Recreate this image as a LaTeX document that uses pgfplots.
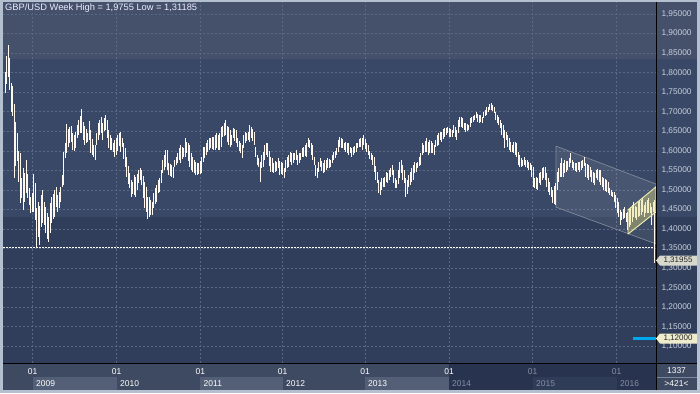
\documentclass[border=0pt]{standalone}
\usepackage{pgfplots}
\pgfplotsset{compat=1.18}
\usepackage{pgfplotstable}
\usepackage{fontspec}
\setmainfont{Liberation Sans}
\definecolor{outer}{HTML}{B4BFCF}
\definecolor{bandA}{HTML}{45516B}
\definecolor{bandB}{HTML}{3A4867}
\definecolor{bandC}{HTML}{303E5B}
\definecolor{panel}{HTML}{3E4A61}
\definecolor{panelD}{HTML}{28344F}
\definecolor{yearbox}{HTML}{535F76}
\definecolor{yearboxD}{HTML}{2F3C58}
\definecolor{gridc}{HTML}{5A6986}
\definecolor{labc}{HTML}{C8D0DC}
\definecolor{dimtxt}{HTML}{858EA0}
\definecolor{barc}{HTML}{FFF8EE}
\definecolor{chan}{HTML}{808898}
\definecolor{yel}{HTML}{E6E07A}
\definecolor{yeledge}{HTML}{F2EDB0}
\definecolor{bluel}{HTML}{00A8F0}
\definecolor{tagA}{HTML}{D8D8CC}
\definecolor{tagB}{HTML}{EEECCC}

\pgfplotstableread{
x h l
5.0 1.802 1.748
6.5 1.843 1.772
8.0 1.871 1.790
9.5 1.837 1.756
11.0 1.774 1.700
12.5 1.766 1.690
14.0 1.720 1.530
15.5 1.675 1.560
17.0 1.646 1.575
18.5 1.600 1.520
20.0 1.594 1.467
21.5 1.530 1.480
23.0 1.556 1.449
24.5 1.543 1.469
26.0 1.577 1.492
27.5 1.540 1.480
29.0 1.505 1.461
30.5 1.482 1.441
32.0 1.492 1.444
33.5 1.541 1.444
35.0 1.518 1.423
36.5 1.454 1.354
38.0 1.470 1.380
39.5 1.459 1.359
41.0 1.487 1.405
42.5 1.500 1.415
44.0 1.469 1.410
45.5 1.456 1.390
47.0 1.440 1.375
48.5 1.431 1.367
50.0 1.467 1.390
51.5 1.482 1.415
53.0 1.490 1.425
54.5 1.500 1.431
56.0 1.507 1.456
57.5 1.487 1.444
59.0 1.495 1.455
60.5 1.507 1.469
62.0 1.538 1.507
63.5 1.597 1.513
65.0 1.620 1.582
66.5 1.669 1.594
68.0 1.655 1.610
69.5 1.661 1.620
71.0 1.664 1.623
72.5 1.646 1.602
74.0 1.640 1.600
75.5 1.648 1.607
77.0 1.666 1.633
78.5 1.679 1.641
80.0 1.690 1.645
81.5 1.707 1.646
83.0 1.674 1.628
84.5 1.664 1.615
86.0 1.655 1.620
87.5 1.646 1.623
89.0 1.676 1.628
90.5 1.653 1.594
92.0 1.630 1.590
93.5 1.615 1.584
95.0 1.615 1.577
96.5 1.646 1.615
98.0 1.671 1.628
99.5 1.680 1.640
101.0 1.687 1.646
102.5 1.671 1.628
104.0 1.685 1.650
105.5 1.692 1.653
107.0 1.679 1.633
108.5 1.653 1.607
110.0 1.640 1.602
111.5 1.633 1.602
113.0 1.620 1.597
114.5 1.628 1.584
116.0 1.633 1.589
117.5 1.640 1.600
119.0 1.646 1.612
120.5 1.648 1.597
122.0 1.633 1.610
123.5 1.620 1.580
125.0 1.607 1.559
126.5 1.584 1.533
128.0 1.560 1.515
129.5 1.543 1.505
131.0 1.525 1.482
132.5 1.520 1.490
134.0 1.538 1.487
135.5 1.533 1.482
137.0 1.540 1.500
138.5 1.551 1.518
140.0 1.556 1.525
141.5 1.551 1.513
143.0 1.535 1.480
144.5 1.520 1.454
146.0 1.507 1.444
147.5 1.482 1.426
149.0 1.482 1.431
150.5 1.475 1.436
152.0 1.469 1.436
153.5 1.492 1.454
155.0 1.505 1.465
156.5 1.513 1.469
158.0 1.525 1.492
159.5 1.530 1.495
161.0 1.551 1.518
162.5 1.577 1.543
164.0 1.590 1.550
165.5 1.602 1.559
167.0 1.602 1.551
168.5 1.569 1.538
170.0 1.566 1.535
171.5 1.564 1.533
173.0 1.559 1.530
174.5 1.577 1.559
176.0 1.585 1.565
177.5 1.594 1.569
179.0 1.607 1.577
180.5 1.615 1.569
182.0 1.610 1.580
183.5 1.607 1.584
185.0 1.633 1.584
186.5 1.623 1.594
188.0 1.620 1.575
189.5 1.615 1.559
191.0 1.594 1.551
192.5 1.585 1.545
194.0 1.577 1.543
195.5 1.572 1.538
197.0 1.569 1.538
198.5 1.569 1.540
200.0 1.575 1.541
201.5 1.584 1.543
203.0 1.610 1.572
204.5 1.610 1.582
206.0 1.620 1.590
207.5 1.628 1.597
209.0 1.633 1.602
210.5 1.633 1.607
212.0 1.636 1.605
213.5 1.636 1.602
215.0 1.641 1.602
216.5 1.646 1.607
218.0 1.640 1.602
219.5 1.646 1.602
221.0 1.661 1.610
222.5 1.664 1.636
224.0 1.670 1.638
225.5 1.679 1.641
227.0 1.664 1.623
228.5 1.660 1.615
230.0 1.653 1.610
231.5 1.641 1.615
233.0 1.659 1.633
234.5 1.656 1.625
236.0 1.653 1.620
237.5 1.633 1.610
239.0 1.625 1.600
240.5 1.620 1.594
242.0 1.615 1.582
243.5 1.641 1.607
245.0 1.648 1.620
246.5 1.645 1.625
248.0 1.648 1.628
249.5 1.666 1.623
251.0 1.661 1.633
252.5 1.655 1.625
254.0 1.648 1.615
255.5 1.610 1.584
257.0 1.590 1.565
258.5 1.582 1.559
260.0 1.572 1.520
261.5 1.589 1.556
263.0 1.597 1.559
264.5 1.615 1.577
266.0 1.620 1.589
267.5 1.620 1.584
269.0 1.600 1.560
270.5 1.584 1.546
272.0 1.582 1.546
273.5 1.569 1.543
275.0 1.575 1.545
276.5 1.572 1.548
278.0 1.582 1.556
279.5 1.575 1.538
281.0 1.572 1.540
282.5 1.570 1.538
284.0 1.556 1.530
285.5 1.577 1.546
287.0 1.585 1.555
288.5 1.589 1.559
290.0 1.597 1.572
291.5 1.594 1.563
293.0 1.594 1.570
294.5 1.594 1.577
296.0 1.602 1.577
297.5 1.589 1.564
299.0 1.595 1.570
300.5 1.594 1.577
302.0 1.607 1.584
303.5 1.610 1.584
305.0 1.615 1.588
306.5 1.620 1.584
308.0 1.633 1.610
309.5 1.628 1.607
311.0 1.620 1.590
312.5 1.615 1.577
314.0 1.584 1.564
315.5 1.565 1.535
317.0 1.556 1.530
318.5 1.572 1.546
320.0 1.582 1.559
321.5 1.575 1.548
323.0 1.569 1.543
324.5 1.577 1.546
326.0 1.577 1.551
327.5 1.582 1.556
329.0 1.580 1.557
330.5 1.577 1.559
332.0 1.589 1.569
333.5 1.597 1.577
335.0 1.600 1.582
336.5 1.607 1.589
338.0 1.628 1.597
339.5 1.636 1.610
341.0 1.633 1.608
342.5 1.630 1.607
344.0 1.620 1.602
345.5 1.622 1.597
347.0 1.620 1.594
348.5 1.620 1.589
350.0 1.610 1.594
351.5 1.607 1.584
353.0 1.610 1.590
354.5 1.612 1.594
356.0 1.620 1.597
357.5 1.620 1.607
359.0 1.630 1.610
360.5 1.633 1.610
362.0 1.633 1.602
363.5 1.641 1.615
365.0 1.630 1.605
366.5 1.620 1.597
368.0 1.615 1.589
369.5 1.600 1.580
371.0 1.594 1.577
372.5 1.589 1.564
374.0 1.584 1.546
375.5 1.560 1.525
377.0 1.546 1.518
378.5 1.525 1.492
380.0 1.520 1.487
381.5 1.530 1.500
383.0 1.530 1.507
384.5 1.533 1.507
386.0 1.546 1.520
387.5 1.543 1.518
389.0 1.550 1.525
390.5 1.556 1.533
392.0 1.564 1.538
393.5 1.551 1.518
395.0 1.530 1.505
396.5 1.525 1.505
398.0 1.550 1.515
399.5 1.572 1.530
401.0 1.577 1.543
402.5 1.565 1.525
404.0 1.551 1.518
405.5 1.530 1.482
407.0 1.525 1.490
408.5 1.538 1.507
410.0 1.546 1.513
411.5 1.555 1.520
413.0 1.564 1.525
414.5 1.572 1.543
416.0 1.569 1.546
417.5 1.572 1.556
419.0 1.585 1.560
420.5 1.594 1.564
422.0 1.620 1.589
423.5 1.615 1.594
425.0 1.625 1.597
426.5 1.633 1.597
428.0 1.623 1.589
429.5 1.628 1.594
431.0 1.625 1.594
432.5 1.620 1.594
434.0 1.615 1.589
435.5 1.628 1.610
437.0 1.640 1.612
438.5 1.646 1.615
440.0 1.648 1.628
441.5 1.648 1.623
443.0 1.655 1.630
444.5 1.659 1.636
446.0 1.659 1.641
447.5 1.661 1.646
449.0 1.659 1.636
450.5 1.655 1.636
452.0 1.653 1.636
453.5 1.666 1.646
455.0 1.660 1.635
456.5 1.653 1.628
458.0 1.679 1.646
459.5 1.687 1.661
461.0 1.687 1.660
462.5 1.684 1.659
464.0 1.671 1.653
465.5 1.671 1.648
467.0 1.668 1.650
468.5 1.666 1.653
470.0 1.684 1.661
471.5 1.687 1.671
473.0 1.690 1.675
474.5 1.692 1.679
476.0 1.699 1.684
477.5 1.695 1.675
479.0 1.692 1.671
480.5 1.692 1.674
482.0 1.687 1.671
483.5 1.699 1.684
485.0 1.705 1.688
486.5 1.712 1.692
488.0 1.712 1.699
489.5 1.720 1.704
491.0 1.722 1.704
492.5 1.718 1.702
494.0 1.712 1.697
495.5 1.699 1.679
497.0 1.692 1.672
498.5 1.687 1.666
500.0 1.679 1.659
501.5 1.670 1.640
503.0 1.666 1.633
504.5 1.653 1.607
506.0 1.648 1.628
507.5 1.640 1.610
509.0 1.633 1.602
510.5 1.623 1.597
512.0 1.615 1.597
513.5 1.623 1.594
515.0 1.622 1.590
516.5 1.620 1.584
518.0 1.597 1.564
519.5 1.589 1.559
521.0 1.582 1.559
522.5 1.577 1.562
524.0 1.584 1.565
525.5 1.577 1.559
527.0 1.577 1.556
528.5 1.572 1.552
530.0 1.569 1.551
531.5 1.564 1.533
533.0 1.559 1.507
534.5 1.530 1.505
536.0 1.532 1.503
537.5 1.530 1.500
539.0 1.543 1.518
540.5 1.546 1.513
542.0 1.555 1.525
543.5 1.559 1.530
545.0 1.559 1.525
546.5 1.543 1.507
548.0 1.530 1.495
549.5 1.520 1.487
551.0 1.507 1.482
552.5 1.500 1.467
554.0 1.510 1.465
555.5 1.518 1.461
557.0 1.546 1.500
558.5 1.556 1.520
560.0 1.570 1.533
561.5 1.582 1.533
563.0 1.569 1.533
564.5 1.577 1.543
566.0 1.574 1.546
567.5 1.575 1.550
569.0 1.582 1.559
570.5 1.594 1.569
572.0 1.577 1.556
573.5 1.572 1.551
575.0 1.570 1.548
576.5 1.569 1.546
578.0 1.572 1.552
579.5 1.572 1.546
581.0 1.575 1.550
582.5 1.577 1.556
584.0 1.584 1.560
585.5 1.570 1.533
587.0 1.566 1.530
588.5 1.564 1.525
590.0 1.559 1.533
591.5 1.550 1.520
593.0 1.546 1.518
594.5 1.543 1.513
596.0 1.551 1.530
597.5 1.554 1.525
599.0 1.552 1.520
600.5 1.551 1.513
602.0 1.533 1.507
603.5 1.530 1.500
605.0 1.528 1.497
606.5 1.525 1.495
608.0 1.520 1.492
609.5 1.505 1.487
611.0 1.500 1.484
612.5 1.495 1.482
614.0 1.495 1.469
615.5 1.487 1.454
617.0 1.480 1.440
618.5 1.469 1.431
620.0 1.449 1.410
621.5 1.444 1.423
623.0 1.450 1.425
624.5 1.456 1.428
626.0 1.441 1.418
627.5 1.444 1.397
629.0 1.452 1.405
630.5 1.456 1.410
632.0 1.461 1.418
633.5 1.469 1.431
635.0 1.460 1.428
636.5 1.456 1.423
638.0 1.469 1.431
639.5 1.472 1.434
641.0 1.474 1.436
642.5 1.479 1.444
644.0 1.461 1.431
645.5 1.469 1.441
647.0 1.475 1.441
648.5 1.479 1.441
650.0 1.467 1.441
651.5 1.456 1.410
653.0 1.469 1.444
654.5 1.475 1.312
}\bars

\begin{document}
\begin{tikzpicture}[x=1pt,y=1pt]
\useasboundingbox (-3,-30) rectangle (697,363);
% frame and background bands
\fill[outer] (-3,-30) rectangle (697,363);
\fill[bandC] (0,0) rectangle (694,146);
\fill[bandB] (0,146) rectangle (694,304);
\fill[bandA] (0,304) rectangle (694,361);
% bottom panel
\fill[panel] (0,-27) rectangle (694,0);
\fill[panelD] (446,-27) rectangle (653,0);
\fill[yearbox] (29.7,-27) rectangle (113.7,-14);
\fill[yearbox] (197.3,-27) rectangle (279.7,-14);
\fill[yearbox] (362,-27) rectangle (446,-14);
\fill[yearboxD] (529.7,-27) rectangle (613.7,-14);
\begin{scope}[font=\fontsize{8.5}{10}\selectfont]
\node[anchor=west,text=white,inner sep=0] at (33,-20.5) {2009};
\node[anchor=west,text=white,inner sep=0] at (117,-20.5) {2010};
\node[anchor=west,text=white,inner sep=0] at (200.5,-20.5) {2011};
\node[anchor=west,text=white,inner sep=0] at (283,-20.5) {2012};
\node[anchor=west,text=white,inner sep=0] at (365,-20.5) {2013};
\node[anchor=west,text=dimtxt,inner sep=0] at (449,-20.5) {2014};
\node[anchor=west,text=dimtxt,inner sep=0] at (533,-20.5) {2015};
\node[anchor=west,text=dimtxt,inner sep=0] at (617,-20.5) {2016};
\node[text=white,inner sep=0] at (673.5,-7.5) {1337};
\node[text=white,inner sep=0] at (673.5,-21) {>421<};
\end{scope}
\draw[gridc!80!white,line width=0.6pt] (653,-14) -- (694,-14);
\begin{axis}[
  at={(0,0)}, anchor=south west,
  scale only axis, width=653pt, height=361pt,
  xmin=3, xmax=656, ymin=1.0574, ymax=1.9807,
  axis line style={draw=none},
  clip=false,
  xtick={32.7,116.7,200.3,282.7,365,449,532.7,616.7},
  xticklabels={01,01,01,01,01,01,\textcolor{dimtxt}{01},\textcolor{dimtxt}{01}},
  xticklabel style={anchor=center,yshift=-8.5pt,text=white,font=\fontsize{8.5}{10}\selectfont},
  ytick={1.10,1.15,1.20,1.25,1.30,1.35,1.40,1.45,1.50,1.55,1.60,1.65,1.70,1.75,1.80,1.85,1.90,1.95},
  yticklabel pos=right,
  scaled y ticks=false,
  yticklabel style={anchor=west,xshift=2pt,text=labc,font=\fontsize{8.3}{9}\selectfont,
    /pgf/number format/.cd, fixed, fixed zerofill, precision=5, use comma, assume math mode=true},
  major tick length=0pt,
  grid=major,
  major grid style={gridc, dash pattern=on 2pt off 2pt, line width=0.6pt},
]
% descending channel
\addplot[fill=white, fill opacity=0.08, draw=chan, line width=0.7pt, forget plot]
  coordinates {(556,1.612) (656,1.515) (656,1.362) (556,1.456) (556,1.612)};
% weekly bars (high/low)
\addplot[draw=none, mark=none, forget plot,
  error bars/.cd, y dir=both, y explicit, error mark=none,
  error bar style={draw=barc, solid, line width=0.85pt}]
  table[x=x, y expr={(\thisrow{h}+\thisrow{l})/2}, y error expr={(\thisrow{h}-\thisrow{l})/2}] {\bars};
% support level
\addplot[white, dash pattern=on 2pt off 1pt, line width=0.8pt, forget plot]
  coordinates {(3,1.354) (655,1.354)};
% rising channel
\addplot[fill=yel, fill opacity=0.38, draw=yeledge, line width=0.9pt, forget plot]
  coordinates {(628,1.387) (628,1.449) (656,1.508) (656,1.444) (628,1.387)};
% target level
\addplot[bluel, line width=3pt, forget plot] coordinates {(633,1.12) (656,1.12)};
\coordinate (tagone) at (axis cs:656,1.31955);
\coordinate (tagtwo) at (axis cs:656,1.12);
\end{axis}
\draw[black,line width=1pt] (653,-27) -- (653,361);
\draw[black,line width=1pt] (0,0) -- (694,0);
% price tags
\fill[tagA] (tagone) -- ++(4,5) -- ++(37,0) -- ++(0,-10) -- ++(-37,0) -- cycle;
\node[anchor=center,text=black!85,inner sep=0,font=\fontsize{8}{9}\selectfont] at ([xshift=22pt]tagone) {1,31955};
\fill[tagB] (tagtwo) -- ++(4,5) -- ++(37,0) -- ++(0,-10) -- ++(-37,0) -- cycle;
\node[anchor=center,text=black!85,inner sep=0,font=\fontsize{8}{9}\selectfont] at ([xshift=22pt]tagtwo) {1,12000};
\node[anchor=west,text=white!92!blue,inner sep=0,font=\fontsize{9.3}{11}\selectfont] at (2,355) {GBP/USD Week High = 1,9755 Low = 1,31185};
\end{tikzpicture}
\end{document}
